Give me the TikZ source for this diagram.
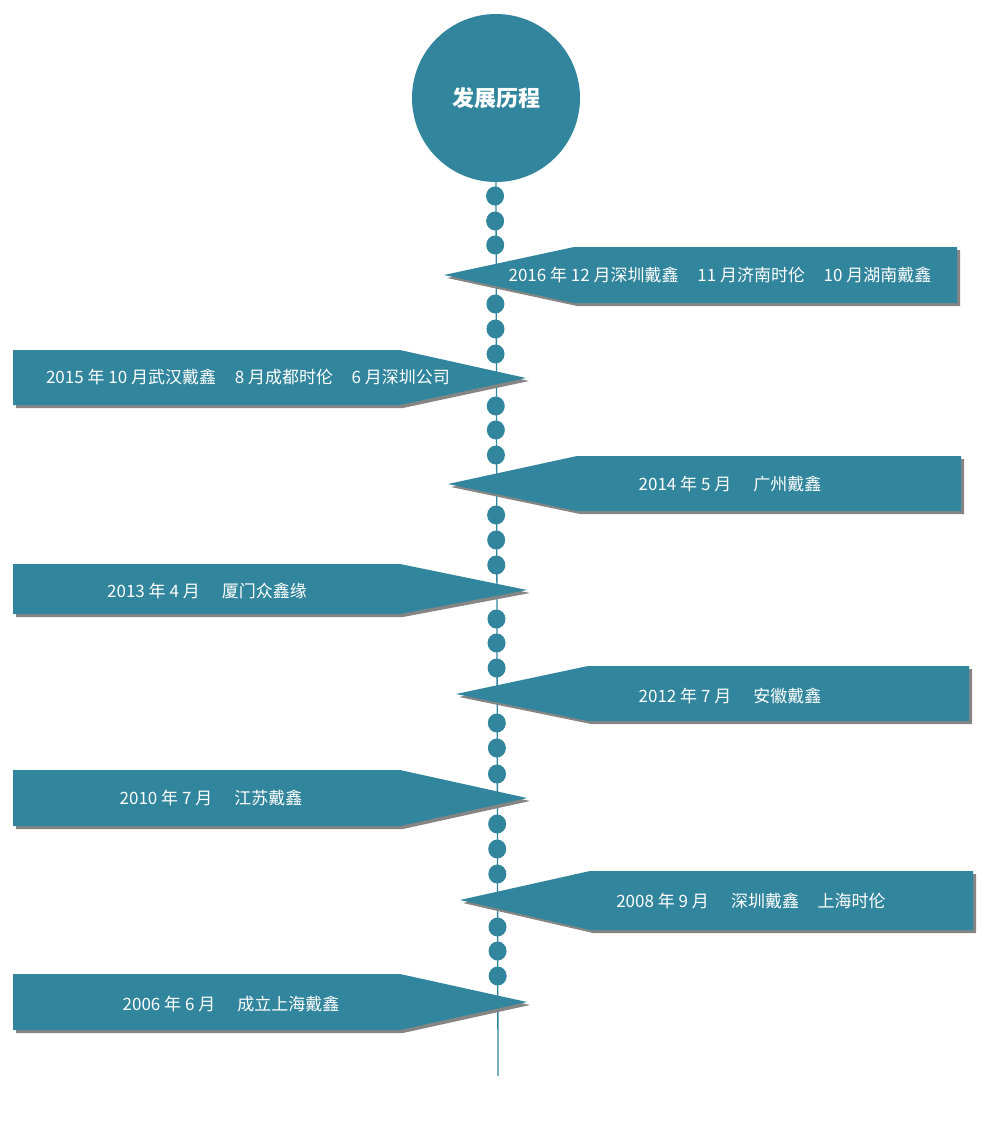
\documentclass[tikz,border=0pt]{standalone}
\usepackage{fontspec}
\setmainfont{Noto Sans CJK SC}
\definecolor{tealmain}{HTML}{31859C}
\definecolor{shadowgray}{HTML}{858585}
\newcommand\lbanner[6]{% tipx,tipy,cornerx,top,bottom,right  (points left)
  \fill[shadowgray,shift={(3,3)}] (#1,#2) -- (#3,#4) -- (#6,#4) -- (#6,#5) -- (#3,#5) -- cycle;
  \fill[tealmain] (#1,#2) -- (#3,#4) -- (#6,#4) -- (#6,#5) -- (#3,#5) -- cycle;}
\newcommand\rbanner[6]{% tipx,tipy,cornerx,top,bottom,left  (points right)
  \fill[shadowgray,shift={(3,3)}] (#1,#2) -- (#3,#4) -- (#6,#4) -- (#6,#5) -- (#3,#5) -- cycle;
  \fill[tealmain] (#1,#2) -- (#3,#4) -- (#6,#4) -- (#6,#5) -- (#3,#5) -- cycle;}
\begin{document}
\begin{tikzpicture}[x=1pt,y=-1pt,
  dot/.style={ellipse,fill=tealmain,inner sep=0pt,minimum width=18pt,minimum height=19pt},
  lbl/.style={text=white,font=\fontsize{17}{17}\selectfont,inner sep=0pt,anchor=center},
  titlestyle/.style={circle,fill=tealmain,minimum size=168pt,inner sep=0pt,text=white,font=\bfseries\fontsize{22}{22}\selectfont}]
\usetikzlibrary{shapes.geometric}
\useasboundingbox (0,0) rectangle (1000,1122);
\node[titlestyle] (title) at (496,98) {发展历程};
\coordinate (lineend) at (498,1076);
\draw[tealmain,line width=1.3pt] (title.south) -- (lineend);
% dots
\foreach \y [count=\i] in {196,221,245,304,329,354,406,430,455,515,540,565,619,643,668,723,748,774,824,849,874,927,951,976}{
  \node[dot] (d\i) at ({495+3*(\y-182)/894},\y) {};
}
% banners
\lbanner{444}{275}{574}{247}{303}{957}
\rbanner{526}{378}{400}{350}{405}{13}
\lbanner{448}{484}{577}{456}{511}{961}
\rbanner{527}{590}{400}{564}{614}{13}
\lbanner{456}{694}{588}{666}{721}{969}
\rbanner{527}{798}{400}{770}{826}{13}
\lbanner{460}{900}{590}{871}{930}{973}
\rbanner{527}{1002}{400}{974}{1030}{13}
% labels
\node[lbl] (t1) at (720,275) {2016 年 12 月深圳戴鑫\hspace{1.1em}11 月济南时伦\hspace{1.1em}10 月湖南戴鑫};
\node[lbl] (t2) at (248,377) {2015 年 10 月武汉戴鑫\hspace{1.1em}8 月成都时伦\hspace{1.1em}6 月深圳公司};
\node[lbl] (t3) at (730,484) {2014 年 5 月\hspace{1.3em}广州戴鑫};
\node[lbl] (t4) at (207,591) {2013 年 4 月\hspace{1.3em}厦门众鑫缘};
\node[lbl] (t5) at (730,696) {2012 年 7 月\hspace{1.3em}安徽戴鑫};
\node[lbl] (t6) at (211,798) {2010 年 7 月\hspace{1.3em}江苏戴鑫};
\node[lbl] (t7) at (751,901) {2008 年 9 月\hspace{1.3em}深圳戴鑫\hspace{1.1em}上海时伦};
\node[lbl] (t8) at (231,1004) {2006 年 6 月\hspace{1.3em}成立上海戴鑫};
\end{tikzpicture}
\end{document}
